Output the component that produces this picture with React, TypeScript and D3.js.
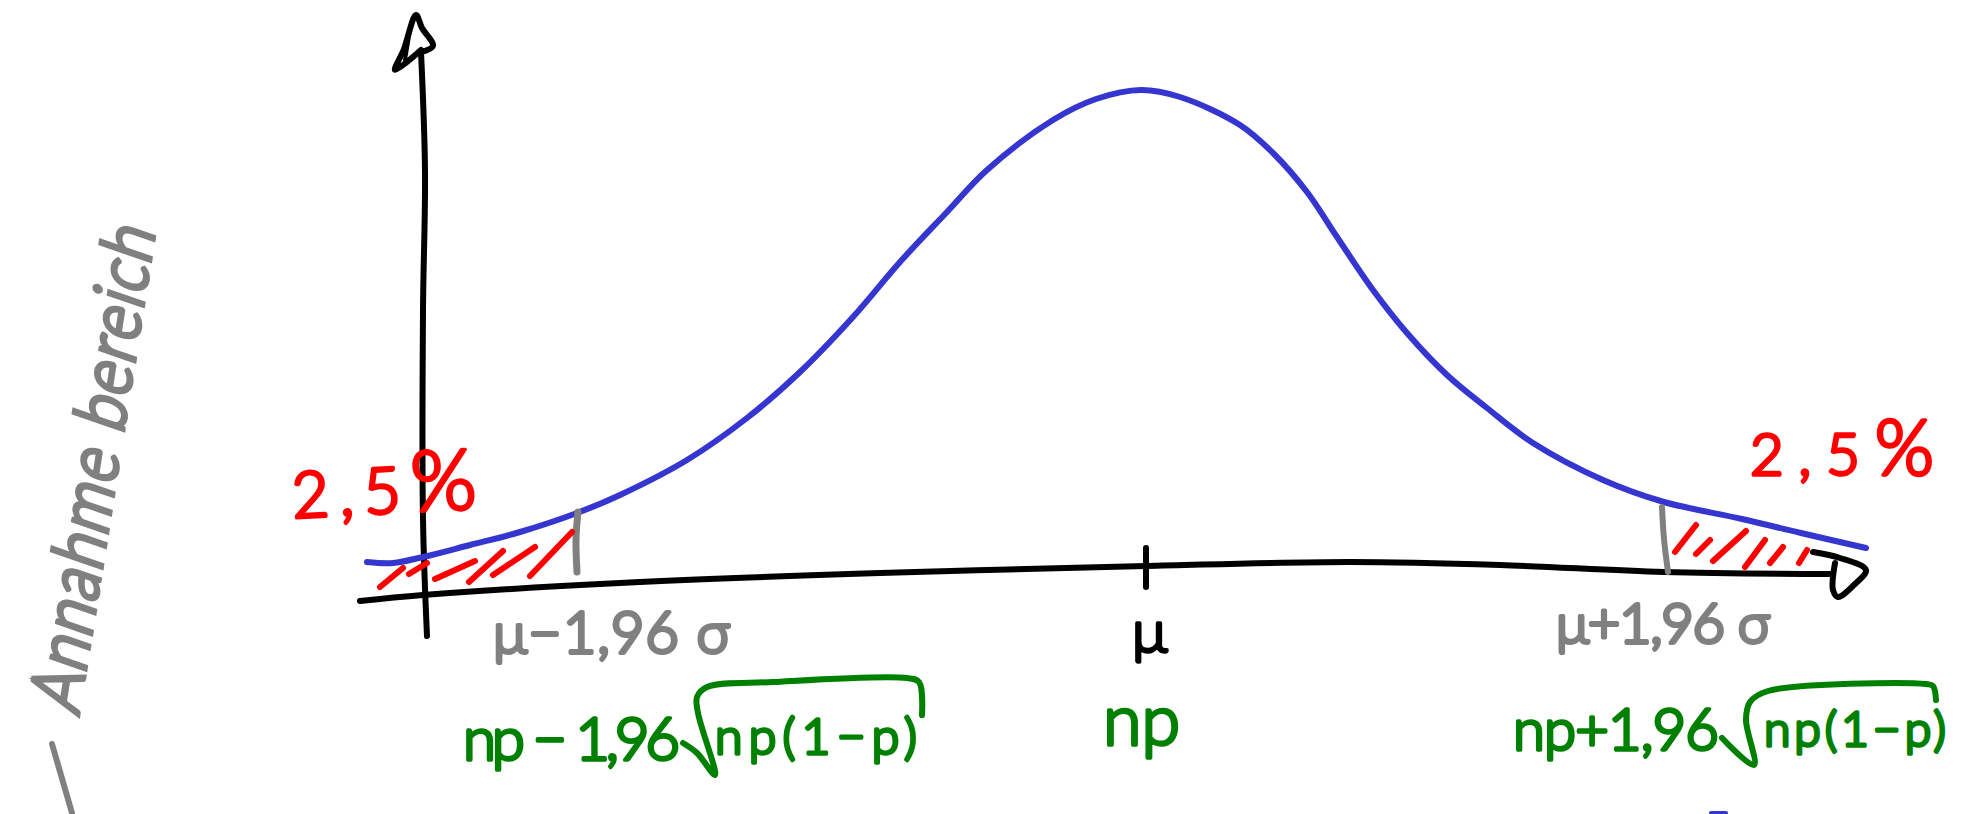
import React from "react";
import * as d3 from "d3";

type P = [number, number];

// Sketch is hand drawn, so values are read in its own units: x 0..196.4, y 0..81.4
const densityCurve: P[] = [
  [36.7, 25.2], [39.3, 25.1], [42.3, 25.7], [47, 26.9], [52, 28.2], [57.7, 30.1], [62, 31.9], [68.7, 35.4],
  [74.7, 39.6], [80, 44.2], [85.3, 49.7], [90, 55.2], [94.7, 60.2], [98.7, 64.4], [105.3, 69.4],
  [109.6, 71.5], [114.1, 72.4], [118, 71.7], [124, 68.9], [127.3, 66.1], [130.7, 62.2], [133.7, 57.7],
  [137.3, 52.4], [140.7, 48.1], [144.7, 43.9], [148.7, 40.6], [153.3, 37.1], [160.3, 33.4], [166.4, 31.2],
  [174.2, 29.5], [180.1, 28.1], [186.6, 26.6],
];
const xAxisLine: P[] = [
  [36, 21.3], [42.3, 21.9], [62, 23.1], [88, 24.1], [114.6, 24.8], [135, 25.2], [150, 24.9], [166.4, 24.2], [183, 24],
];
const yAxisLine: P[] = [[42.7, 17.8], [42.3, 29.5], [42.3, 50.3], [42.5, 64.3], [42.1, 76.2]];
const xArrow: P[] = [[181.3, 26.2], [184, 25.6], [186.6, 24.4], [185.5, 23], [183.8, 21.7], [183.3, 22.4], [183.5, 25.1]];
const yArrow: P[] = [[42.1, 76.4], [39.5, 74.4], [40.4, 76.5], [41.6, 79.9], [42.2, 78.6], [43.3, 76.8], [42.1, 76.2]];
const yArrowInner: P[] = [[41.1, 79], [40.5, 75.4]];
const meanTick: P[] = [[114.6, 26.6], [114.6, 22.7]];
const lowerBound: P[] = [[57.8, 30.2], [57.6, 27.5], [57.7, 24.2]];
const upperBound: P[] = [[166.2, 30.7], [166.4, 27.5], [166.8, 24.2]];
const lowerHatch: [P, P][] = [
  [[38, 22.7], [40.3, 24.6]], [[40.9, 24], [42.7, 25.1]], [[43.5, 23.5], [47.5, 25.3]],
  [[46.9, 23.2], [50.3, 26.3]], [[49.3, 23.9], [53.5, 26.7]], [[53, 23.8], [57.2, 28.2]],
];
const upperHatch: [P, P][] = [
  [[167.5, 26.2], [169.6, 28.9]], [[169.6, 26], [171, 27.4]], [[171.3, 25.3], [174.6, 28.3]],
  [[174.5, 24.7], [176.5, 27.4]], [[177, 25.1], [178.3, 26.7]], [[179.9, 25.1], [180.7, 26.4]],
];
const lowerSurd: P[] = [
  [68.3, 7.1], [69.7, 6.1], [71.5, 3.9], [69.8, 10.1], [69.7, 11.7], [70.7, 12.7], [77.3, 13.2], [90.7, 13.6],
  [91.9, 13.2], [92.2, 9.9],
];
const upperSurd: P[] = [
  [172.2, 7.6], [175.4, 4.9], [174.6, 9.4], [175, 11.2], [176.8, 12.3], [192.6, 13], [193.3, 12.8], [193.6, 11.4],
];
const regionMark: P[] = [[5.2, 7], [7.2, 0.1]];
const nextLineMark: P[] = [[171.1, 0.1], [172.6, 0.1]];

const axisLabels = { mean: "μ", meanBin: "np" };
const lowerLabels = { gray: "μ−1,96 σ", green: "np − 1,96", root: "np(1−p)", pct: "2,5" };
const upperLabels = { gray: "μ+1,96 σ", green: "np+1,96", root: "np(1−p)", pct: "2,5" };
const regionLabel = "Annahme bereich";

const W = 1964;
const H = 814;
const BLACK = "#000";
const BLUE = "#3535cf";
const RED = "#ff0000";
const GRAY = "#808080";
const GREEN = "#008000";
const FONT = "Lato, 'Open Sans', sans-serif";

const x = d3.scaleLinear().domain([0, 196.4]).range([0, W]);
const y = d3.scaleLinear().domain([0, 81.4]).range([H, 0]);
const smooth = d3.line<P>().x((d) => x(d[0])).y((d) => y(d[1])).curve(d3.curveCatmullRom.alpha(0.5));
const straight = d3.line<P>().x((d) => x(d[0])).y((d) => y(d[1]));

function Stroke({ d, c, w = 6, s = false }: { d: P[]; c: string; w?: number; s?: boolean }) {
  return (
    <path
      d={(s ? straight(d) : smooth(d)) as string}
      fill="none"
      stroke={c}
      strokeWidth={w}
      strokeLinecap="round"
      strokeLinejoin="round"
    />
  );
}

function Label(props: {
  t: React.ReactNode; px: number; py: number; size: number; c: string; len?: number; rot?: number; sw?: number;
}) {
  const { t, px, py, size, c, len, rot = 0, sw = 3 } = props;
  return (
    <text
      x={x(px)}
      y={y(py)}
      transform={rot ? `rotate(${rot} ${x(px)} ${y(py)})` : undefined}
      fontFamily={FONT}
      fontWeight={300}
      fontSize={size}
      fill={c}
      stroke={c}
      strokeWidth={sw}
      strokeLinejoin="round"
      textLength={len}
      lengthAdjust={len ? "spacing" : undefined}
    >
      {t}
    </text>
  );
}

export default function App() {
  return (
    <svg
      width={W}
      height={H}
      viewBox={`0 0 ${W} ${H}`}
      style={{ position: "absolute", left: 0, top: 0, background: "#fff", display: "block" }}
    >
      <Stroke d={yAxisLine} c={BLACK} />
      <Stroke d={yArrow} c={BLACK} />
      <Stroke d={yArrowInner} c={BLACK} w={4} s />
      <Stroke d={xAxisLine} c={BLACK} />
      <Stroke d={xArrow} c={BLACK} />
      <Stroke d={meanTick} c={BLACK} s />
      <Stroke d={densityCurve} c={BLUE} />
      <Stroke d={lowerBound} c={GRAY} w={7} />
      <Stroke d={upperBound} c={GRAY} w={6} />
      {lowerHatch.concat(upperHatch).map((h, i) => (
        <Stroke key={i} d={h} c={RED} s />
      ))}
      <Stroke d={regionMark} c={GRAY} w={6} s />
      <Stroke d={nextLineMark} c={BLUE} w={4} s />
      <Stroke d={lowerSurd} c={GREEN} />
      <Stroke d={upperSurd} c={GREEN} />

      <Label t={lowerLabels.gray} px={49.3} py={16.1} size={58} c={GRAY} len={237} sw={4} />
      <Label t={upperLabels.gray} px={155.6} py={17.1} size={56} c={GRAY} len={214} sw={4} />
      <Label t={lowerLabels.green} px={46.3} py={5.4} size={60} c={GREEN} len={217} sw={3.5} />
      <Label t={upperLabels.green} px={151.3} py={6.4} size={58} c={GREEN} len={206} sw={3.5} />
      <Label t={lowerLabels.root} px={71.5} py={6} size={50} c={GREEN} len={202} sw={3.5} />
      <Label t={upperLabels.root} px={176.4} py={6.8} size={48} c={GREEN} len={182} sw={3.5} />
      <Label t={axisLabels.mean} px={113.2} py={16.2} size={60} c={BLACK} sw={3.5} />
      <Label t={axisLabels.meanBin} px={110.3} py={6.9} size={70} c={GREEN} sw={3.5} />
      <Label
        t={<>{lowerLabels.pct}<tspan fontSize={84}>%</tspan></>}
        px={29.3} py={29.6} size={64} c={RED} rot={-3} len={185} sw={3.5}
      />
      <Label
        t={<>{upperLabels.pct}<tspan fontSize={76}>%</tspan></>}
        px={175} py={33.9} size={58} c={RED} len={184} sw={3.5}
      />
      <g transform={`translate(${x(7.8)} ${y(9.8)}) rotate(-81) skewX(-10) scale(1 1.14)`}>
        <text
          fontFamily={FONT}
          fontWeight={300}
          fontSize={62}
          fill={GRAY}
          stroke={GRAY}
          strokeWidth={4}
          textLength={490}
          lengthAdjust="spacing"
        >
          {regionLabel}
        </text>
      </g>
    </svg>
  );
}
